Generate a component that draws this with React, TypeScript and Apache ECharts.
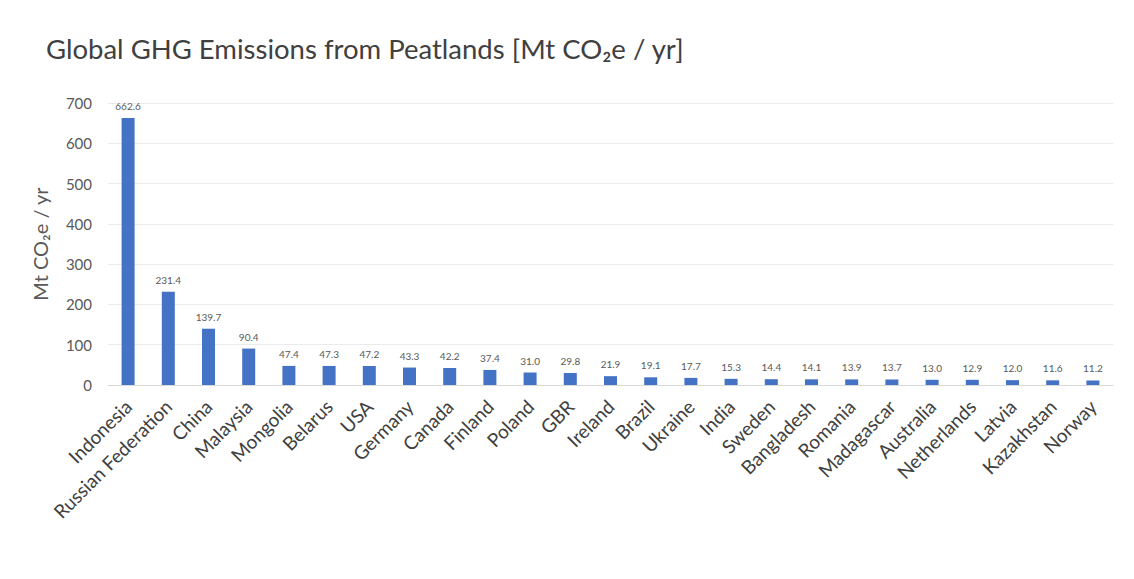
import React, { useEffect, useRef } from "react";
import * as echarts from "echarts";

const categories = [
  "Indonesia", "Russian Federation", "China", "Malaysia", "Mongolia", "Belarus", "USA",
  "Germany", "Canada", "Finland", "Poland", "GBR", "Ireland", "Brazil", "Ukraine", "India",
  "Sweden", "Bangladesh", "Romania", "Madagascar", "Australia", "Netherlands", "Latvia",
  "Kazakhstan", "Norway",
];
const emissions = [
  662.6, 231.4, 139.7, 90.4, 47.4, 47.3, 47.2, 43.3, 42.2, 37.4, 31.0, 29.8, 21.9, 19.1,
  17.7, 15.3, 14.4, 14.1, 13.9, 13.7, 13.0, 12.9, 12.0, 11.6, 11.2,
];
const yTicks = [0, 100, 200, 300, 400, 500, 600, 700];

const FONT = "Lato, 'Open Sans', 'Liberation Sans', sans-serif";

export default function App() {
  const ref = useRef<HTMLDivElement>(null);
  useEffect(() => {
    document.body.style.margin = "0";
    const chart = echarts.init(ref.current!, undefined, { renderer: "svg" });
    chart.setOption({
      animation: false,
      backgroundColor: "#ffffff",
      title: {
        text: "Global GHG Emissions from Peatlands [Mt CO₂e / yr]",
        left: 41,
        top: 29,
        textStyle: { fontFamily: FONT, fontSize: 27.5, fontWeight: "normal", color: "#404040" },
      },
      grid: { left: 108, right: 21, top: 103, bottom: 194 },
      xAxis: {
        type: "category",
        data: categories,
        axisLine: { show: true, lineStyle: { color: "#d9d9d9" } },
        axisTick: { show: false },
        axisLabel: {
          rotate: 45,
          interval: 0,
          fontFamily: FONT,
          fontSize: 19,
          color: "#404040",
          margin: 18,
        },
      },
      yAxis: {
        type: "value",
        min: yTicks[0],
        max: yTicks[yTicks.length - 1],
        interval: 100,
        name: "Mt CO₂e / yr",
        nameLocation: "middle",
        nameGap: 58,
        nameTextStyle: { fontFamily: FONT, fontSize: 20, color: "#595959" },
        axisLine: { show: false },
        axisTick: { show: false },
        axisLabel: { fontFamily: FONT, fontSize: 15, color: "#595959", margin: 16 },
        splitLine: { lineStyle: { color: "#ebebeb", width: 1 } },
      },
      series: [
        {
          type: "bar",
          data: emissions,
          barWidth: 13,
          itemStyle: { color: "#4472c4" },
          label: {
            show: true,
            position: "top",
            formatter: (p: any) => p.value.toFixed(1),
            fontFamily: FONT,
            fontSize: 10,
            color: "#595959",
            distance: 7,
          },
        },
      ],
    });
    return () => chart.dispose();
  }, []);
  return <div ref={ref} style={{ width: 1134, height: 579 }} />;
}
